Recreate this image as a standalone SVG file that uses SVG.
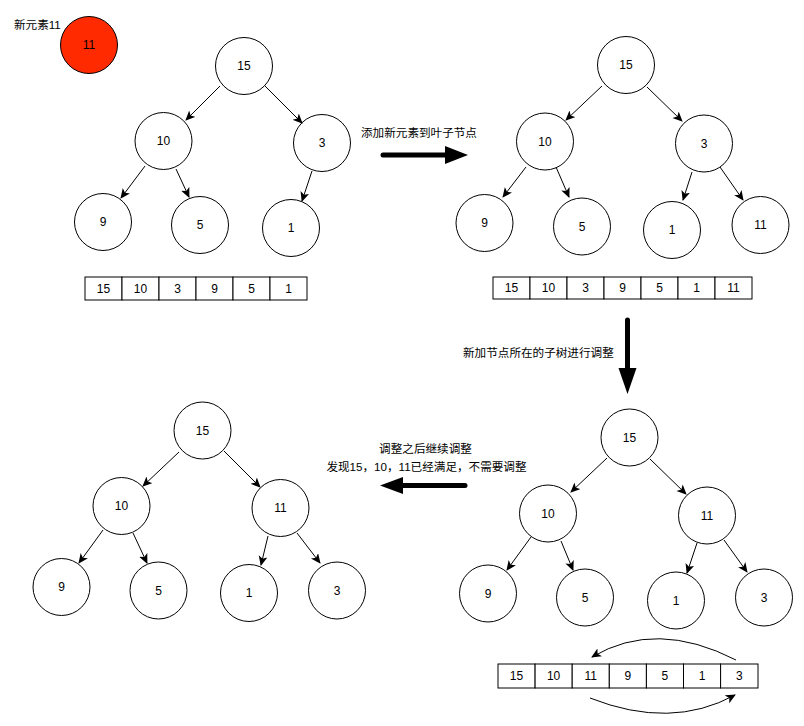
<svg xmlns="http://www.w3.org/2000/svg" width="804" height="726" viewBox="0 0 804 726">
<style>
.n circle{fill:#fff;stroke:#000;stroke-width:1}
.t{font-family:"Liberation Sans","Noto Sans CJK SC",sans-serif;font-size:12px;fill:#000}
.l{font-size:11.6px}
.c{text-anchor:middle;dominant-baseline:central}
.cell{fill:#fff;stroke:#000;stroke-width:1}
.e{stroke:#000;stroke-width:1;fill:none;marker-end:url(#ah)}
.big{stroke:#000;stroke-width:5;stroke-linecap:round;fill:none}
</style>
<defs>
<marker id="ah" markerUnits="userSpaceOnUse" markerWidth="11" markerHeight="10" refX="9" refY="4.5" orient="auto">
<path d="M0,0 L10,4.5 L0,9 L2.5,4.5 z" fill="#000"/>
</marker>
</defs>
<rect width="804" height="726" fill="#fff"/>

<text class="t l" x="14" y="29">新元素11</text>
<g id="new11" class="n"><circle cx="89" cy="45" r="28.5" style="fill:#ff2a00"/><text class="t c" x="89" y="45">11</text></g>

<!-- tree 1 -->
<g id="t1-15" class="n"><circle cx="244" cy="66" r="28.5"/><text class="t c" x="244" y="66">15</text></g>
<g id="t1-10" class="n"><circle cx="163.5" cy="141" r="28.5"/><text class="t c" x="163.5" y="141">10</text></g>
<g id="t1-3" class="n"><circle cx="322" cy="143" r="28.5"/><text class="t c" x="322" y="143">3</text></g>
<g id="t1-9" class="n"><circle cx="103" cy="222" r="28.5"/><text class="t c" x="103" y="222">9</text></g>
<g id="t1-5" class="n"><circle cx="200" cy="225" r="28.5"/><text class="t c" x="200" y="225">5</text></g>
<g id="t1-1" class="n"><circle cx="291" cy="228" r="28.5"/><text class="t c" x="291" y="228">1</text></g>

<g id="arr1">
<rect class="cell" x="85" y="277" width="37" height="23"/><text class="t c" x="103.5" y="288.5">15</text>
<rect class="cell" x="122" y="277" width="37" height="23"/><text class="t c" x="140.5" y="288.5">10</text>
<rect class="cell" x="159" y="277" width="37" height="23"/><text class="t c" x="177.5" y="288.5">3</text>
<rect class="cell" x="196" y="277" width="37" height="23"/><text class="t c" x="214.5" y="288.5">9</text>
<rect class="cell" x="233" y="277" width="37" height="23"/><text class="t c" x="251.5" y="288.5">5</text>
<rect class="cell" x="270" y="277" width="37" height="23"/><text class="t c" x="288.5" y="288.5">1</text>
</g>

<!-- tree 2 -->
<g id="t2-15" class="n"><circle cx="626" cy="65" r="28.5"/><text class="t c" x="626" y="65">15</text></g>
<g id="t2-10" class="n"><circle cx="545" cy="141.5" r="28.5"/><text class="t c" x="545" y="141.5">10</text></g>
<g id="t2-3" class="n"><circle cx="704" cy="143.5" r="28.5"/><text class="t c" x="704" y="143.5">3</text></g>
<g id="t2-9" class="n"><circle cx="484.5" cy="223" r="28.5"/><text class="t c" x="484.5" y="223">9</text></g>
<g id="t2-5" class="n"><circle cx="582" cy="226.5" r="28.5"/><text class="t c" x="582" y="226.5">5</text></g>
<g id="t2-1" class="n"><circle cx="672" cy="230" r="28.5"/><text class="t c" x="672" y="230">1</text></g>
<g id="t2-11" class="n"><circle cx="760.5" cy="225" r="28.5"/><text class="t c" x="760.5" y="225">11</text></g>

<g id="arr2">
<rect class="cell" x="493" y="277" width="37" height="22"/><text class="t c" x="511.5" y="288">15</text>
<rect class="cell" x="530" y="277" width="37" height="22"/><text class="t c" x="548.5" y="288">10</text>
<rect class="cell" x="567" y="277" width="37" height="22"/><text class="t c" x="585.5" y="288">3</text>
<rect class="cell" x="604" y="277" width="37" height="22"/><text class="t c" x="622.5" y="288">9</text>
<rect class="cell" x="641" y="277" width="37" height="22"/><text class="t c" x="659.5" y="288">5</text>
<rect class="cell" x="678" y="277" width="37" height="22"/><text class="t c" x="696.5" y="288">1</text>
<rect class="cell" x="715" y="277" width="37" height="22"/><text class="t c" x="733.5" y="288">11</text>
</g>

<!-- tree 3 (bottom right) -->
<g id="t3-15" class="n"><circle cx="629.5" cy="437.5" r="28.5"/><text class="t c" x="629.5" y="437.5">15</text></g>
<g id="t3-10" class="n"><circle cx="548" cy="513.5" r="28.5"/><text class="t c" x="548" y="513.5">10</text></g>
<g id="t3-11" class="n"><circle cx="707" cy="515.5" r="28.5"/><text class="t c" x="707" y="515.5">11</text></g>
<g id="t3-9" class="n"><circle cx="488" cy="593.5" r="28.5"/><text class="t c" x="488" y="593.5">9</text></g>
<g id="t3-5" class="n"><circle cx="585" cy="597.5" r="28.5"/><text class="t c" x="585" y="597.5">5</text></g>
<g id="t3-1" class="n"><circle cx="676" cy="600.5" r="28.5"/><text class="t c" x="676" y="600.5">1</text></g>
<g id="t3-3" class="n"><circle cx="764" cy="597.5" r="28.5"/><text class="t c" x="764" y="597.5">3</text></g>

<g id="arr3">
<rect class="cell" x="498" y="664" width="37.1" height="24"/><text class="t c" x="516.5" y="676">15</text>
<rect class="cell" x="535.1" y="664" width="37.1" height="24"/><text class="t c" x="553.6" y="676">10</text>
<rect class="cell" x="572.2" y="664" width="37.1" height="24"/><text class="t c" x="590.7" y="676">11</text>
<rect class="cell" x="609.3" y="664" width="37.1" height="24"/><text class="t c" x="627.8" y="676">9</text>
<rect class="cell" x="646.4" y="664" width="37.1" height="24"/><text class="t c" x="664.9" y="676">5</text>
<rect class="cell" x="683.5" y="664" width="37.1" height="24"/><text class="t c" x="702" y="676">1</text>
<rect class="cell" x="720.6" y="664" width="37.4" height="24"/><text class="t c" x="739.3" y="676">3</text>
</g>

<!-- tree 4 (bottom left) -->
<g id="t4-15" class="n"><circle cx="202.5" cy="430.5" r="28.5"/><text class="t c" x="202.5" y="430.5">15</text></g>
<g id="t4-10" class="n"><circle cx="121.5" cy="506" r="28.5"/><text class="t c" x="121.5" y="506">10</text></g>
<g id="t4-11" class="n"><circle cx="280.5" cy="508" r="28.5"/><text class="t c" x="280.5" y="508">11</text></g>
<g id="t4-9" class="n"><circle cx="61.5" cy="587" r="28.5"/><text class="t c" x="61.5" y="587">9</text></g>
<g id="t4-5" class="n"><circle cx="158.5" cy="590.5" r="28.5"/><text class="t c" x="158.5" y="590.5">5</text></g>
<g id="t4-1" class="n"><circle cx="249" cy="593" r="28.5"/><text class="t c" x="249" y="593">1</text></g>
<g id="t4-3" class="n"><circle cx="337" cy="590.5" r="28.5"/><text class="t c" x="337" y="590.5">3</text></g>

<!-- labels -->
<text class="t l" x="361" y="137">添加新元素到叶子节点</text>
<text class="t l" x="463" y="357">新加节点所在的子树进行调整</text>
<text class="t l" x="425.5" y="453" text-anchor="middle">调整之后继续调整</text>
<text class="t l" x="426.5" y="471" text-anchor="middle">发现15，10，11已经满足，不需要调整</text>

<g id="connectors">
<line class="e" x1="220" y1="86" x2="186" y2="120"/>
<line class="e" x1="265" y1="86" x2="302" y2="123"/>
<line class="e" x1="145" y1="166" x2="121" y2="198"/>
<line class="e" x1="176" y1="169" x2="189" y2="197"/>
<line class="e" x1="312" y1="171" x2="302" y2="201"/>

<line class="e" x1="602" y1="86" x2="566" y2="120"/>
<line class="e" x1="647" y1="87" x2="682" y2="121"/>
<line class="e" x1="526" y1="167" x2="503" y2="197"/>
<line class="e" x1="556" y1="167" x2="569" y2="197"/>
<line class="e" x1="692" y1="172" x2="683" y2="200"/>
<line class="e" x1="720" y1="167" x2="743" y2="200"/>

<line class="e" x1="607" y1="458" x2="571" y2="492"/>
<line class="e" x1="650" y1="459" x2="686" y2="494"/>
<line class="e" x1="531" y1="537" x2="507" y2="570"/>
<line class="e" x1="561" y1="541" x2="573" y2="570"/>
<line class="e" x1="697" y1="543" x2="687" y2="573"/>
<line class="e" x1="724" y1="540" x2="747" y2="572"/>

<line class="e" x1="179" y1="452" x2="143" y2="486"/>
<line class="e" x1="224" y1="451" x2="260" y2="487"/>
<line class="e" x1="103" y1="530" x2="79" y2="563"/>
<line class="e" x1="133" y1="533" x2="147" y2="563"/>
<line class="e" x1="268" y1="536" x2="261" y2="565"/>
<line class="e" x1="297" y1="533" x2="320" y2="563"/>

<path class="e" d="M736,660 Q656,619 592,657"/>
<path class="e" d="M590,698 Q671,730 735,695"/>

<line class="big" x1="383" y1="155" x2="446" y2="155"/>
<polygon points="445,146 468,155 445,164" fill="#000"/>
<line class="big" x1="627.5" y1="320" x2="627.5" y2="370"/>
<polygon points="618.5,368 636.5,368 627.5,394" fill="#000"/>
<line class="big" x1="465" y1="485.5" x2="402" y2="485.5"/>
<polygon points="403,477 380,485.5 403,494" fill="#000"/>
</g>
</svg>
